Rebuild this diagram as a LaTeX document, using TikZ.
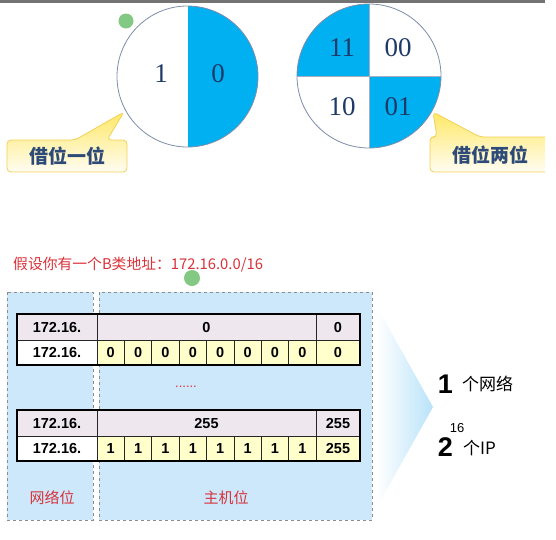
\documentclass[tikz,border=0pt]{standalone}
\usepackage{fontspec}
\setmainfont{Liberation Serif}
\newfontfamily\cjk{Noto Sans CJK SC}
\newfontfamily\arialf{Liberation Sans}
\definecolor{cblue}{HTML}{00B0F0}
\definecolor{cedge}{HTML}{7F8DAA}
\definecolor{numblue}{HTML}{1F3A68}
\definecolor{bgblue}{HTML}{CDE8FA}
\definecolor{rowgray}{HTML}{EEE8EE}
\definecolor{cellyel}{HTML}{FFFFCC}
\definecolor{redtxt}{HTML}{D9323A}
\definecolor{calloutedge}{HTML}{F3CF55}
\definecolor{calltop}{HTML}{FFE866}
\definecolor{callbot}{HTML}{FFFDF2}
\definecolor{dotgreen}{HTML}{6DBE6D}
\definecolor{callouttxt}{HTML}{2E4A78}
\tikzset{
  circnum/.style={text=numblue, font=\fontsize{27}{27}\selectfont, inner sep=0pt},
  calltext/.style={text=callouttxt, font=\cjk\bfseries\fontsize{19}{19}\selectfont, inner sep=0pt},
  callbox/.style={draw=calloutedge, line width=0.8pt, top color=calltop, bottom color=callbot, rounded corners=4pt},
  bgbox/.style={fill=bgblue, draw=gray!90, dashed, line width=0.8pt},
  cell/.style={font=\arialf\bfseries\fontsize{14.5}{14.5}\selectfont, inner sep=0pt},
  redlabel/.style={text=redtxt, font=\cjk\fontsize{15}{15}\selectfont, inner sep=0pt},
  bigdigit/.style={font=\arialf\bfseries\fontsize{27}{27}\selectfont, inner sep=0pt},
  sidetext/.style={font=\cjk\fontsize{17}{17}\selectfont, inner sep=0pt},
  greendot/.style={fill=dotgreen, opacity=0.85},
  innerline/.style={draw=black!85, line width=0.7pt},
}
\newcommand\iptable[5]{%
  \pgfmathsetmacro\ya{#2}\pgfmathsetmacro\yb{#2+26}\pgfmathsetmacro\yc{#2+51}
  \fill[rowgray] (17,\ya) rectangle (360,\yb);
  \fill[white] (17,\yb) rectangle (97,\yc);
  \fill[cellyel] (97,\yb) rectangle (360,\yc);
  \draw[innerline] (17,\yb) -- (360,\yb);
  \draw[innerline] (97,\ya) -- (97,\yc);
  \draw[innerline] (316,\ya) -- (316,\yc);
  \foreach \k in {1,...,7} {\draw[innerline] ({97+27.375*\k},\yb) -- ({97+27.375*\k},\yc);}
  \draw[black, line width=1.6pt] (17,\ya) rectangle (360,\yc);
  \node[cell] (#1n1) at (57,\ya+13) {172.16.};
  \node[cell] (#1n2) at (57,\yb+12.5) {172.16.};
  \node[cell] (#1m) at (206.5,\ya+13) {#3};
  \node[cell] (#1l1) at (338,\ya+13) {#5};
  \node[cell] (#1l2) at (338,\yb+12.5) {#5};
  \foreach \i in {0,...,7} {\node[cell] (#1b\i) at ({97+27.375*(\i+0.5)},\yb+12.5) {#4};}
}
\begin{document}
\begin{tikzpicture}[x=1pt,y=-1pt]
\useasboundingbox (0,0) rectangle (556,539);
% top line
\draw[black!55, line width=2.5pt] (0,1.25) -- (545,1.25);
% left circle
\begin{scope}
  \clip (187.5,76.5) circle (70.5);
  \fill[white] (117,6) rectangle (258,147);
  \fill[cblue] (187.5,0) rectangle (260,150);
\end{scope}
\draw[cedge, line width=0.8pt] (187.5,76.5) circle (70.5);
\node[circnum] (c1a) at (161,74) {1};
\node[circnum] (c1b) at (218,74) {0};
% right circle
\begin{scope}
  \clip (369,76) circle (72);
  \fill[white] (297,4) rectangle (441,148);
  \fill[cblue] (296,3) rectangle (369,76);
  \fill[cblue] (369,76) rectangle (442,149);
  \draw[cedge!70, line width=0.5pt] (296,76) -- (442,76);
  \draw[cedge!70, line width=0.5pt] (369,3) -- (369,149);
\end{scope}
\draw[cedge, line width=0.8pt] (369,76) circle (72);
\node[circnum] (c2a) at (342,48) {11};
\node[circnum] (c2b) at (398,48) {00};
\node[circnum] (c2c) at (342,107) {10};
\node[circnum] (c2d) at (398,107) {01};
% callouts
\path[callbox] (7,172) -- (7,140) -- (75,140) -- (124,112) -- (107,140) -- (127,140) -- (127,172) -- cycle;
\node[calltext] (call1) at (67,156.5) {借位一位};
\begin{scope}
  \clip (0,0) rectangle (545,539);
  \path[callbox] (430,172) -- (430,137) -- (437,137) -- (433,112) -- (480,137) -- (552,137) -- (552,172) -- cycle;
\end{scope}
\node[calltext] (call2) at (490,155) {借位两位};
% green dots
\fill[greendot] (126,21) circle (7.5);
\fill[greendot] (192,278) circle (8);
% title
\node[redlabel, anchor=west, font=\cjk\fontsize{14.8}{14.8}\selectfont] (title) at (13,265) {假设你有一个B类地址：172.16.0.0/16};
% background boxes
\path[bgbox] (7,292) rectangle (93,520);
\path[bgbox] (99,292) rectangle (372,520);
% tables
\iptable{ta}{314}{0}{0}{0}
\iptable{tb}{410}{255}{1}{255}
% dots
\node[text=redtxt, font=\arialf\fontsize{13}{13}\selectfont, inner sep=0pt] (dots) at (186,387) {......};
% labels
\node[redlabel] (netlbl) at (52,498) {网络位};
\node[redlabel] (hostlbl) at (226,498) {主机位};
% triangle
\shade[left color=white, right color=bgblue!90!cblue] (377,307) -- (433,407) -- (377,507) -- cycle;
% right texts
\node[bigdigit] (one) at (445.5,384) {1};
\node[sidetext, anchor=west] (net) at (462,384) {个网络};
\node[bigdigit] (two) at (445.5,447) {2};
\node[font=\arialf\fontsize{13}{13}\selectfont, inner sep=0pt] (sup16) at (457,428) {16};
\node[sidetext, anchor=west] (ips) at (463,448) {个IP};
\end{tikzpicture}
\end{document}
